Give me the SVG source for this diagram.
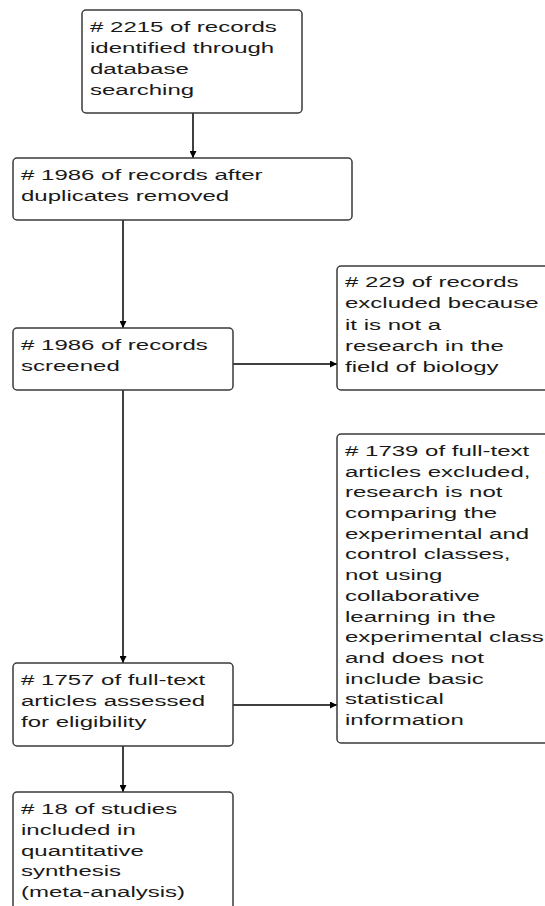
<svg xmlns="http://www.w3.org/2000/svg" width="545" height="906" viewBox="0 0 545 906">
<defs>
<style>
.box{fill:#fff;stroke:#3a3a3a;stroke-width:1.5}
.t{font-family:"Liberation Sans",Arial,sans-serif;font-size:15.5px;fill:#1a1a1a}
.c{stroke:#000;stroke-width:1.5;fill:none}
</style>
<marker id="ah" viewBox="0 0 10 10" refX="10" refY="5" markerWidth="8" markerHeight="7" markerUnits="userSpaceOnUse" orient="auto">
<path d="M0,0 L10,5 L0,10 z" fill="#000"/>
</marker>
</defs>
<rect width="545" height="906" fill="#fff"/>
<g id="connectors">
<line class="c" x1="193" y1="113" x2="193" y2="158" marker-end="url(#ah)"/>
<line class="c" x1="123" y1="220" x2="123" y2="328" marker-end="url(#ah)"/>
<line class="c" x1="233" y1="364" x2="337" y2="364" marker-end="url(#ah)"/>
<line class="c" x1="123" y1="390" x2="123" y2="663" marker-end="url(#ah)"/>
<line class="c" x1="233" y1="705" x2="337" y2="705" marker-end="url(#ah)"/>
<line class="c" x1="123" y1="746" x2="123" y2="792" marker-end="url(#ah)"/>
</g>
<g id="n1">
<rect class="box" x="82" y="10" width="220" height="103" rx="4"/>
<text class="t" transform="translate(90,32) scale(1.55,1)"><tspan x="0" y="0">&#35; 2215 of records</tspan><tspan x="0" y="21">identified through</tspan><tspan x="0" y="42">database</tspan><tspan x="0" y="63">searching</tspan></text>
</g>
<g id="n2">
<rect class="box" x="13" y="158" width="339" height="62" rx="4"/>
<text class="t" transform="translate(21,180) scale(1.55,1)"><tspan x="0" y="0"># 1986 of records after</tspan><tspan x="0" y="21">duplicates removed</tspan></text>
</g>
<g id="n3">
<rect class="box" x="13" y="328" width="220" height="62" rx="4"/>
<text class="t" transform="translate(21,350) scale(1.55,1)"><tspan x="0" y="0"># 1986 of records</tspan><tspan x="0" y="21">screened</tspan></text>
</g>
<g id="n4">
<rect class="box" x="337" y="266" width="215" height="124" rx="4"/>
<text class="t" transform="translate(345,287) scale(1.55,1)"><tspan x="0" y="0"># 229 of records</tspan><tspan x="0" y="21.3">excluded because</tspan><tspan x="0" y="42.6">it is not a</tspan><tspan x="0" y="63.9">research in the</tspan><tspan x="0" y="85.2">field of biology</tspan></text>
</g>
<g id="n5">
<rect class="box" x="13" y="663" width="220" height="83" rx="4"/>
<text class="t" transform="translate(21,685) scale(1.55,1)"><tspan x="0" y="0"># 1757 of full-text</tspan><tspan x="0" y="20.8">articles assessed</tspan><tspan x="0" y="41.6">for eligibility</tspan></text>
</g>
<g id="n6">
<rect class="box" x="337" y="434" width="215" height="309" rx="4"/>
<text class="t" transform="translate(345,456) scale(1.55,1)"><tspan x="0" y="0"># 1739 of full-text</tspan><tspan x="0" y="20.7">articles excluded,</tspan><tspan x="0" y="41.4">research is not</tspan><tspan x="0" y="62.1">comparing the</tspan><tspan x="0" y="82.8">experimental and</tspan><tspan x="0" y="103.5">control classes,</tspan><tspan x="0" y="124.2">not using</tspan><tspan x="0" y="144.9">collaborative</tspan><tspan x="0" y="165.6">learning in the</tspan><tspan x="0" y="186.3">experimental class</tspan><tspan x="0" y="207">and does not</tspan><tspan x="0" y="227.7">include basic</tspan><tspan x="0" y="248.4">statistical</tspan><tspan x="0" y="269.1">information</tspan></text>
</g>
<g id="n7">
<rect class="box" x="13" y="792" width="220" height="130" rx="4"/>
<text class="t" transform="translate(21,814) scale(1.55,1)"><tspan x="0" y="0"># 18 of studies</tspan><tspan x="0" y="20.8">included in</tspan><tspan x="0" y="41.6">quantitative</tspan><tspan x="0" y="62.4">synthesis</tspan><tspan x="0" y="83.2">(meta-analysis)</tspan></text>
</g>
</svg>
